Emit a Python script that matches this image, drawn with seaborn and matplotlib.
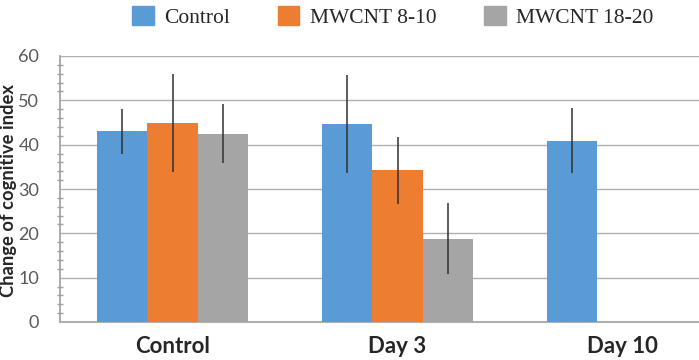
import matplotlib
matplotlib.use("Agg")
import matplotlib.pyplot as plt
from matplotlib.ticker import MultipleLocator
import seaborn as sns
import pandas as pd

# valores
dias = ["Control", "Day 3", "Day 10"]
grupos = ["Control", "MWCNT 8-10", "MWCNT 18-20"]
control = [43.0, 44.6, 40.9]
control_err = [5.0, 11.1, 7.3]
mw_8_10 = [44.9, 34.2]          # sin dato en Day 10
mw_8_10_err = [11.0, 7.6]
mw_18_20 = [42.5, 18.8]
mw_18_20_err = [6.6, 8.0]
colores = ["#5B9BD5", "#ED7D31", "#A5A5A5"]

filas = []
for grupo, vals, errs in [(grupos[0], control, control_err),
                          (grupos[1], mw_8_10, mw_8_10_err),
                          (grupos[2], mw_18_20, mw_18_20_err)]:
    for dia, v, e in zip(dias, vals, errs):
        filas.append({"dia": dia, "grupo": grupo, "valor": v, "err": e})
datos = pd.DataFrame(filas)

sns.set_theme(style="white")
plt.rcParams["font.family"] = ["Lato", "DejaVu Sans"]

fig = plt.figure(figsize=(6.99, 3.6), dpi=100)
ax = fig.add_axes([60 / 699, 38 / 360, 675 / 699, 266 / 360])

sns.barplot(data=datos, x="dia", y="valor", hue="grupo",
            order=dias, hue_order=grupos, palette=colores,
            width=0.667, gap=0, errorbar=None, linewidth=0,
            saturation=1, legend=False, ax=ax, zorder=3)

for contenedor, grupo in zip(ax.containers, grupos):
    sub = datos[datos["grupo"] == grupo]
    for barra, err in zip(contenedor, sub["err"]):
        ax.errorbar(barra.get_x() + barra.get_width() / 2, barra.get_height(),
                    yerr=err, fmt="none", ecolor="#303030", elinewidth=1.1,
                    capsize=0, zorder=4)

ax.set_xlim(-0.5, 2.5)
ax.set_ylim(0, 60)
ax.yaxis.set_major_locator(MultipleLocator(10))
ax.yaxis.set_minor_locator(MultipleLocator(2))
ax.grid(axis="y", color="#b0b0b0", linewidth=1, zorder=0)
ax.set_axisbelow(True)

for lado in ["top", "right"]:
    ax.spines[lado].set_visible(False)
ax.spines["left"].set_color("#a0a0a0")
ax.spines["bottom"].set_color("#b0b0b0")
ax.spines["bottom"].set_linewidth(1.5)

ax.tick_params(axis="y", which="major", direction="out", length=7, width=1,
               color="#a0a0a0", labelsize=13, labelcolor="#595959", pad=8)
ax.tick_params(axis="y", which="minor", direction="inout", length=5, width=1,
               color="#a0a0a0", left=True)
ax.tick_params(axis="x", length=0, labelsize=16, pad=10)
for t in ax.get_xticklabels():
    t.set_fontweight("bold")

ax.set_xlabel("")
ax.set_ylabel("Change of cognitive index", fontsize=13.2, fontweight="bold")
ax.yaxis.set_label_coords(-0.063, 0.496)

manijas = [plt.Rectangle((0, 0), 1, 1, color=c) for c in colores]
fig.legend(manijas, grupos, loc="center", bbox_to_anchor=(393 / 699, 1 - 17 / 360),
           ncol=3, frameon=False, handlelength=1.0, handleheight=1.0,
           handletextpad=0.5, columnspacing=2.2,
           prop={"family": "Liberation Serif", "size": 15.5})

fig.savefig("out.png", dpi=100)
